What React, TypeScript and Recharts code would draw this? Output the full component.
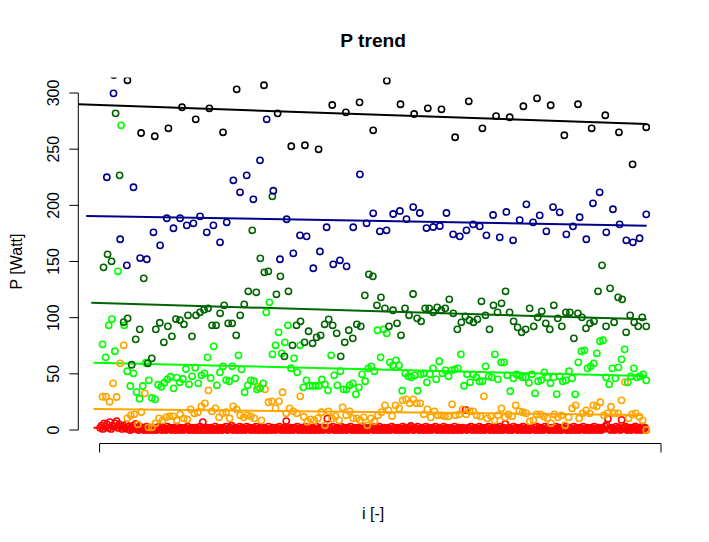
import React from 'react';
import { ScatterChart, Scatter, XAxis, YAxis, ReferenceLine } from 'recharts';

// ---- data (P in Watt), each series sampled over index i = 0..400 ----
const blackP = [320, 316, 311.3, 264.4, 261.5, 268.6, 287.3, 276.6, 286.4, 265, 303.3, 320, 306.9, 281.9, 252.6, 253.5, 249.9, 289.3, 282.8, 291.7, 266.8, 311, 290, 281.3, 286.4, 285.5, 260.6, 292.6, 268.6, 279.5, 278.4, 288.2, 295.3, 289.1, 262.4, 290, 268.6, 280.2, 265, 236.5, 269.5];

const navyP = [225.0, 299.7, 169.8, 146.6, 216.1, 153.1, 152, 176, 164.4, 188.5, 179.6, 188.5, 182.2, 184, 190.2, 176, 182.2, 167.1, 184.9, 222.3, 211.6, 226.7, 205.4, 240.1, 276.6, 213, 152, 187.6, 157.3, 173.3, 172.4, 144, 158.9, 180.5, 147.5, 151.1, 145.7, 180.5, 227.6, 184, 192.9, 176.9, 177.8, 192.3, 195, 187.8, 198.5, 193.2, 179.8, 180.7, 181.6, 193.2, 174.2, 172.4, 177.8, 183.1, 181.3, 173.3, 191.4, 171.5, 194.1, 168.9, 186.9, 200.9, 184.9, 191.1, 176.9, 198.5, 193.8, 174.2, 181.3, 189.4, 169.8, 201.8, 211.6, 176, 196.5, 183.1, 168.9, 167.1, 170.7, 192];

const darkgreenP = [144.8, 156.4, 150.2, 281.9, 226.7, 96.1, 99.4, 58.1, 80.7, 89.6, 135.0, 59.4, 63.8, 89.6, 95.5, 78.1, 92.3, 83.4, 98.8, 97.9, 94.1, 102.1, 83.4, 102.1, 104.8, 107.1, 108.3, 93.2, 93.2, 103.9, 111.0, 95.0, 95.0, 84.3, 102.1, 111.9, 123.5, 177.8, 122.6, 152.8, 140.4, 141.3, 208.0, 120.8, 136.8, 65.6, 123.5, 75.4, 93.2, 96.8, 78.1, 87.9, 77.2, 82.5, 84.3, 94.1, 98.5, 93.2, 86.1, 65.6, 78.1, 88.8, 81.6, 94.1, 92.3, 119.9, 138.6, 136.8, 111.0, 118.1, 108.3, 92.3, 106.6, 95.0, 84.3, 108.3, 102.1, 121.1, 99.4, 96.8, 108.3, 108.3, 104.8, 109.2, 106.6, 108.3, 116.3, 103.9, 89.6, 95.9, 101.2, 97.7, 95.9, 98.5, 114.6, 102.1, 89.6, 111.0, 104.8, 112.8, 123.5, 104.8, 96.8, 91.4, 87.0, 89.6, 108.3, 92.3, 100.3, 105.7, 95.0, 89.6, 111.0, 99.4, 92.3, 104.8, 104.8, 81.6, 103.9, 100.3, 90.5, 95.0, 96.8, 123.5, 146.6, 92.3, 126.1, 95.9, 118.1, 116.3, 87.0, 102.1, 95.9, 92.3, 100.3, 92.3];

const greenP = [76.3, 64.7, 93.2, 98.8, 70.1, 141.3, 271.2, 93.2, 52.3, 39.2, 50.5, 33.8, 27.9, 39.2, 59.9, 44.2, 28.5, 27.3, 40.3, 38.5, 42.1, 45.1, 47.4, 37.1, 46.6, 42.5, 45.4, 54.3, 40.7, 47.8, 55.5, 41.6, 48.7, 50.5, 64.7, 46.3, 74.5, 39.8, 51.4, 56.7, 44.5, 43.4, 56.7, 46.0, 66.5, 54.0, 33.6, 39.8, 44.2, 43.4, 36.2, 37.1, 41.6, 104.8, 113.7, 67.4, 75.4, 87.0, 68.3, 78.1, 93.2, 55, 63.8, 51.4, 75.4, 38.0, 44.2, 39.4, 39.4, 39.4, 39.4, 45, 40.7, 35.3, 66.5, 48.7, 39.8, 52.3, 36.2, 36.2, 39.8, 41.6, 31.8, 38.0, 49.6, 43.4, 54.9, 56.7, 52.3, 88.8, 64.7, 89.6, 86.1, 60.3, 57.6, 62.0, 57.6, 35.0, 50.5, 47.8, 46.9, 48.7, 35.0, 49.6, 50.5, 42.5, 49.6, 54.9, 45.1, 61.2, 50.5, 53.1, 47.8, 53.1, 54.0, 54.9, 67.4, 39.4, 49.6, 42.5, 49.6, 46.9, 43.4, 43.4, 56.7, 47.8, 46.9, 67.4, 45.1, 60.3, 60.3, 48.7, 34.5, 46.0, 49.6, 48.7, 46.9, 46.9, 42.1, 49.6, 32.7, 43.4, 44.5, 51.4, 46.9, 41.6, 46.9, 32.0, 47.8, 43.4, 44.2, 52.3, 46.0, 31.8, 60.3, 70.1, 70.9, 54.9, 56.7, 59.4, 68.3, 79.0, 79.9, 46.9, 40.7, 54.9, 46.0, 55.8, 62.9, 71.8, 42.5, 47.8, 54.9, 46.9, 47.8, 49.6, 44.2];

const orangeP = [29.6, 29.6, 25.2, 41.6, 29.4, 59.4, 75.4, 10.4, 13.1, 14.0, 5.1, 16.0, 32.7, 2.4, 2.4, 6.0, 10.4, 8.6, 11.3, 12.2, 12.2, 8.6, 14.0, 10.4, 9.5, 18.4, 14.9, 15.8, 21.1, 23.8, 35.3, 16.6, 19.3, 11.3, 14.9, 15.8, 10.4, 21.1, 18.4, 13.1, 11.3,
  13.1, 12.2, 10.4, 38.5, 8.6, 36.2, 24.7, 25.5, 19.3, 25.5, 33.6, 14.9, 19.3, 16.6, 14.9, 30.0, 11.8, 7.4, 9.5, 8.6, 10.4, 15.8, 4.2, 16.6, 10.4, 12.2, 8.6, 20.2, 13.1, 16.6, 10.4, 10.4, 8.6, 11.3, 4.2, 10.4, 7.7, 13.1, 15.8, 22.0, 17.5,
  12.5, 22.0, 19.3, 26.4, 27.3, 23.8, 27.3, 23.8, 23.8, 14.0, 18.4, 11.3, 16.6, 13.1, 13.1, 12.2, 12.2, 22.9, 13.1, 14.0, 18.4, 14.0, 16.6, 16.6, 13.1, 12.2, 30.0, 10.4, 12.2, 8.6, 13.1, 19.3, 11.3, 14.0, 12.2, 22.0, 16.6, 15.8, 14.9, 7.7, 8.6, 14.0, 14.0, 12.2, 10.4,
  6.0, 14.0, 11.3, 13.1, 4.2, 11.3, 19.3, 22.0, 10.4, 14.9, 17.5, 14.9, 22.0, 21.1, 24.7, 13.1, 14.9, 20.7, 14.9, 14.9, 26.4, 42.7, 10.4, 14.0, 14.9, 11.8, 8.6, 0];

const redP = [
  2, 4, 1, 6, 3, 5, 2, 7, 1, 4, 3, 6, 8, 2, 5, 3, 1, 4, 2, 5,
  1, 3, 0, 2, 4, 1, 5.5, 2, 0, 3, 1, 2, 0, 1, 3, 0, 2, 1, 0, 2,
  1, 0, 2, 3, 1, 0, 2, 1, 0, 3, 1, 2, 0, 1, 2, 0, 3, 1, 0, 2,
  1, 0, 2, 1, 3, 0, 1, 2, 0, 1, 2, 0, 1, 3, 0, 7.1, 1, 0, 2, 1,
  0, 2, 1, 0, 3, 1, 0, 2, 1, 0, 2, 1, 3, 0, 1, 2, 3.8, 0, 1, 2,
  0, 1, 3, 0, 2, 1, 0, 3, 1, 2, 0, 1, 2, 0, 3, 1, 0, 2, 1, 0,
  2, 1, 0, 3, 1, 0, 2, 1, 0, 2, 1, 3, 0, 1, 2, 0, 8, 1, 0, 2,
  1, 0, 2, 1, 3, 0, 1, 2, 0, 1, 3, 0, 2, 1, 0, 2, 1, 0, 3, 1,
  0, 2, 1, 0, 2, 1, 10.1, 0, 2, 1, 3, 0, 1, 2, 0, 1, 3, 0, 2, 1,
  0, 2, 1, 3, 0, 1, 2, 0, 1, 2, 0, 3, 1, 0, 2, 1, 0, 2, 1, 3,
  0, 1, 2, 0, 3, 1, 0, 2, 1, 0, 2, 1, 0, 3, 1, 2, 0, 1, 2, 0,
  1, 3, 0, 2, 1, 0, 2, 3.6, 1, 0, 2, 1, 3, 0, 1, 2, 0, 1, 3, 0,
  2, 1, 0, 2, 1, 3, 0, 1, 2, 0, 1, 3, 0, 2, 1, 0, 2, 1, 0, 3,
  1, 0, 2, 1, 0, 2, 1, 18, 0, 2, 1, 3, 0, 1, 2, 0, 1, 3, 0, 2,
  1, 0, 2, 1, 3, 0, 1, 2, 0, 1, 2, 0, 3, 1, 0, 2, 5.4, 1, 0, 2,
  1, 0, 3, 1, 2, 0, 1, 2, 0, 3, 1, 0, 2, 1, 0, 2, 1, 3, 0, 3,
  1, 0, 2, 1, 0, 3, 1, 2, 0, 1, 2, 0, 1, 3, 0, 2, 1, 0, 2, 1,
  3, 0, 1, 2, 0, 1, 3, 0, 2, 1, 0, 2, 1, 3, 0, 1, 2, 0, 1, 2,
  0, 3, 1, 0, 2, 1, 0, 2, 1, 3, 4.5, 10, 1, 0, 2, 1, 0, 3, 1, 2,
  0, 9, 1, 2, 3, 0, 1, 2, 0, 1, 2, 3.2, 0, 1, 2, 0, 3, 1, 2, 0];

// index range covered by each series (first, last i); drawing order red first
const seriesNames = ['red', 'orange', 'green', 'darkgreen', 'navy', 'black'];
const seriesColors = ['#FF0000', '#FFA500', '#00FF00', '#006400', '#00008B', '#000000'];
const seriesValues = [redP, orangeP, greenP, darkgreenP, navyP, blackP];
const seriesFirstI = [0, 1.76, 1.76, 2.49, 4.91, 0];
const seriesLastI = [400, 400, 400, 400, 400, 400];

// trend lines, in the same order as the series
const trendX0 = [-4.8, -4.8, -4.8, -6.5, -10.2, -16];
const trendX1 = [400, 397.6, 400.3, 400.3, 400.3, 400.3];
const trendY0 = [2.0, 18.7, 59.9, 113.3, 190.6, 289.9];
const trendY1 = [1.5, 13.4, 48.1, 98.5, 181.9, 272.4];

const yTicks = [0, 50, 100, 150, 200, 250, 300];
const xTicks = [-0.4, 410.8];
const xDomain = [-16, 416];
const yDomain = [-12, 313.8];

const FONT = '"Liberation Sans", Arial, Helvetica, sans-serif';

function toPoints(values: number[], i0: number, i1: number) {
  const n = values.length;
  return values.map((v, k) => ({ x: i0 + ((i1 - i0) * k) / (n - 1), y: v }));
}

const YTick = (props: any) => {
  const { x, y, payload } = props;
  return (
    <text
      x={x}
      y={y}
      transform={`rotate(-90 ${x} ${y})`}
      textAnchor="middle"
      fontSize={16}
      fontFamily={FONT}
      fill="#000"
    >
      {payload.value}
    </text>
  );
};

const makeShape = (color: string) => (p: any) => {
  if (p.cx == null || p.cy == null) return <g />;
  return <circle cx={p.cx} cy={p.cy} r={3.1} fill="none" stroke={color} strokeWidth={1.6} />;
};

export default function App() {
  const W = 709;
  const H = 542;
  return (
    <div style={{ position: 'absolute', left: 0, top: 0, width: W, height: H, background: '#fff' }}>
      <ScatterChart
        width={W}
        height={H}
        margin={{ top: 77.5, right: 40.9, bottom: 58.5, left: 18.3 }}
      >
        <XAxis
          type="number"
          dataKey="x"
          domain={xDomain}
          allowDataOverflow
          ticks={xTicks}
          tickFormatter={() => ''}
          axisLine={false}
          tickLine={{ stroke: '#000', strokeWidth: 1 }}
          tickSize={9}
          height={40}
        />
        <YAxis
          type="number"
          dataKey="y"
          domain={yDomain}
          allowDataOverflow
          ticks={yTicks}
          tick={<YTick />}
          axisLine={false}
          tickLine={{ stroke: '#000', strokeWidth: 1 }}
          tickSize={9}
          tickMargin={10.3}
          width={60}
        />
        {seriesValues.map((vals, s) => (
          <Scatter
            key={seriesNames[s]}
            name={seriesNames[s]}
            data={toPoints(vals, seriesFirstI[s], seriesLastI[s])}
            shape={makeShape(seriesColors[s])}
            isAnimationActive={false}
          />
        ))}
        {seriesNames.map((nm, s) => (
          <ReferenceLine
            key={'trend-' + nm}
            segment={[
              { x: trendX0[s], y: trendY0[s] },
              { x: trendX1[s], y: trendY1[s] },
            ]}
            stroke={seriesColors[s]}
            strokeWidth={2}
            ifOverflow="visible"
          />
        ))}
        <ReferenceLine
          segment={[
            { x: xDomain[0], y: yTicks[0] },
            { x: xDomain[0], y: yTicks[yTicks.length - 1] },
          ]}
          stroke="#000"
          strokeWidth={1}
          ifOverflow="visible"
        />
        <ReferenceLine
          segment={[
            { x: xTicks[0], y: yDomain[0] },
            { x: xTicks[1], y: yDomain[0] },
          ]}
          stroke="#000"
          strokeWidth={1}
          ifOverflow="visible"
        />
      </ScatterChart>
      <svg
        width={W}
        height={H}
        style={{ position: 'absolute', left: 0, top: 0, pointerEvents: 'none' }}
      >
        <text x={373.2} y={46.7} textAnchor="middle" fontSize={19.2} fontWeight="bold" fontFamily={FONT} fill="#000">
          P trend
        </text>
        <text x={373.2} y={519} textAnchor="middle" fontSize={16} fontFamily={FONT} fill="#000">
          i [-]
        </text>
        <text
          x={22}
          y={261.5}
          transform="rotate(-90 22 261.5)"
          textAnchor="middle"
          fontSize={16}
          fontFamily={FONT}
          fill="#000"
        >
          P [Watt]
        </text>
      </svg>
    </div>
  );
}
